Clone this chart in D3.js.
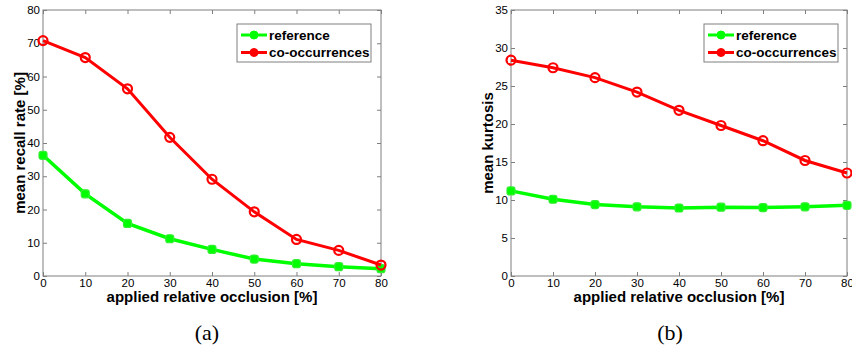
<!DOCTYPE html>
<html>
<head>
<meta charset="utf-8">
<script src="https://cdn.jsdelivr.net/npm/d3@7"></script>
<style>
  body { margin: 0; background: #fff; }
  svg { display: block; }
  .sans, .sans text { font-family: "Liberation Sans", Arial, Helvetica, sans-serif; }
  .sans text.serif { font-family: "Liberation Serif", "Times New Roman", Times, serif; }
</style>
</head>
<body>
<script>
const occlusion = [0, 10, 20, 30, 40, 50, 60, 70, 80];
const recallReference = [36.3, 24.7, 15.8, 11.2, 8.0, 5.1, 3.7, 2.8, 2.2];
const recallCooc = [70.8, 65.7, 56.3, 41.7, 29.1, 19.3, 11.0, 7.7, 3.3];
const kurtReference = [11.2, 10.1, 9.4, 9.1, 8.95, 9.05, 9.0, 9.1, 9.3];
const kurtCooc = [28.4, 27.4, 26.1, 24.2, 21.8, 19.8, 17.8, 15.2, 13.55];
const seriesNames = ["reference", "co-occurrences"];
const seriesColors = ["#00ff00", "#ff0000"];

const width = 852, height = 354;
const svg = d3.select("body").append("svg")
  .attr("width", width).attr("height", height);

function styleAxis(sel, color) {
  sel.attr("font-family", null).attr("font-size", null);
  sel.select(".domain").remove();
  sel.selectAll("line").attr("stroke", color);
  sel.selectAll("text").attr("font-size", 11.5).attr("fill", "#000");
}

function panel(opt) {
  const x = d3.scaleLinear().domain([0, 80]).range([opt.left, opt.right]);
  const y = d3.scaleLinear().domain([0, opt.ymax]).range([276, 10]);
  const g = svg.append("g").attr("class", "sans");
  const axisColor = "#7f7f7f";
  const tk = 4;

  // box
  g.append("rect")
    .attr("x", opt.left).attr("y", 10)
    .attr("width", opt.right - opt.left).attr("height", 266)
    .attr("fill", "none").attr("stroke", axisColor).attr("stroke-width", 1);

  g.append("g").attr("transform", "translate(0,276)")
    .call(d3.axisBottom(x).tickValues(occlusion).tickSizeInner(-tk).tickSizeOuter(0).tickPadding(3))
    .call(styleAxis, axisColor);
  g.append("g").attr("transform", "translate(0,10)")
    .call(d3.axisTop(x).tickValues(occlusion).tickSizeInner(-tk).tickSizeOuter(0).tickFormat(""))
    .call(styleAxis, axisColor);
  g.append("g").attr("transform", `translate(${opt.left},0)`)
    .call(d3.axisLeft(y).tickValues(opt.yticks).tickSizeInner(-tk).tickSizeOuter(0).tickPadding(3))
    .call(styleAxis, axisColor);
  g.append("g").attr("transform", `translate(${opt.right},0)`)
    .call(d3.axisRight(y).tickValues(opt.yticks).tickSizeInner(-tk).tickSizeOuter(0).tickFormat(""))
    .call(styleAxis, axisColor);

  // labels
  g.append("text")
    .attr("x", (opt.left + opt.right) / 2).attr("y", 302)
    .attr("text-anchor", "middle")
    .attr("font-weight", "bold").attr("font-size", 15)
    .text("applied relative occlusion [%]");
  g.append("text")
    .attr("transform", `translate(${opt.left - 18},143) rotate(-90)`)
    .attr("text-anchor", "middle")
    .attr("font-weight", "bold").attr("font-size", 15)
    .text(opt.ylabel);
  g.append("text")
    .attr("class", "serif")
    .attr("x", opt.caption).attr("y", 340)
    .attr("text-anchor", "middle")
    .attr("font-size", 22)
    .text(opt.captionText);

  const line = d3.line().x((d, i) => x(occlusion[i])).y(d => y(d));

  // reference series
  g.append("path").datum(opt.ref)
    .attr("d", line).attr("fill", "none")
    .attr("stroke", seriesColors[0]).attr("stroke-width", 3.5);
  g.selectAll(".ms").data(opt.ref).enter().append("rect")
    .attr("x", (d, i) => x(occlusion[i]) - 4).attr("y", d => y(d) - 4)
    .attr("width", 8).attr("height", 8).attr("rx", 2.5)
    .attr("fill", seriesColors[0]).attr("stroke", "#33ee33").attr("stroke-width", 1.2);

  // co-occurrence series
  g.append("path").datum(opt.cooc)
    .attr("d", line).attr("fill", "none")
    .attr("stroke", seriesColors[1]).attr("stroke-width", 3);
  g.selectAll(".mc").data(opt.cooc).enter().append("circle")
    .attr("cx", (d, i) => x(occlusion[i])).attr("cy", d => y(d))
    .attr("r", 4.5)
    .attr("fill", "none").attr("stroke", seriesColors[1]).attr("stroke-width", 2.2);

  // legend
  const lg = g.append("g").attr("transform", `translate(${opt.legendX},24)`);
  lg.append("rect").attr("width", 134).attr("height", 38)
    .attr("fill", "#fff").attr("stroke", "#7f7f7f").attr("stroke-width", 1);
  seriesNames.forEach((name, i) => {
    const yy = 11 + i * 17.5;
    lg.append("line").attr("x1", 4).attr("x2", 30).attr("y1", yy).attr("y2", yy)
      .attr("stroke", seriesColors[i]).attr("stroke-width", 3);
    lg.append("circle").attr("cx", 17).attr("cy", yy).attr("r", 4)
      .attr("fill", seriesColors[i]).attr("stroke", seriesColors[i]).attr("stroke-width", 1);
    lg.append("text").attr("x", 32).attr("y", yy + 4.5)
      .attr("font-weight", "bold").attr("font-size", 13.5)
      .text(name);
  });
}

panel({
  left: 43, right: 381, ymax: 80, yticks: d3.range(0, 81, 10),
  ref: recallReference, cooc: recallCooc,
  ylabel: "mean recall rate [%]", caption: 207, captionText: "(a)", legendX: 237
});
panel({
  left: 511, right: 847, ymax: 35, yticks: d3.range(0, 36, 5),
  ref: kurtReference, cooc: kurtCooc,
  ylabel: "mean kurtosis", caption: 670, captionText: "(b)", legendX: 704
});
</script>
</body>
</html>
